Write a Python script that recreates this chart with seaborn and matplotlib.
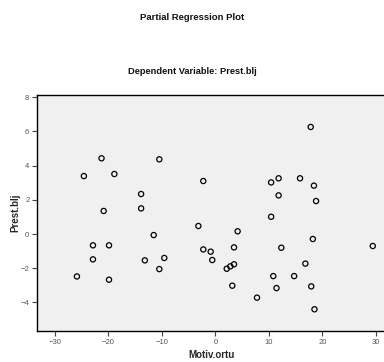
import matplotlib
matplotlib.use("Agg")
import matplotlib.pyplot as plt
from matplotlib import font_manager
import seaborn as sns
import pandas as pd

motiv_ortu = [-21.3, -10.5, -24.6, -18.9, -13.9, -13.9, -20.9, -11.55, -22.9, -19.9,
              -22.9, -13.2, -9.57, -10.5, -25.9, -19.9,
              17.8, -2.28, 10.4, 11.8, 15.8, 18.4, 11.8, 18.8, 10.4, -3.2,
              4.14, 18.2, 3.46, 12.3, 29.4, -2.28, -0.9, -0.6, 3.46, 2.77,
              2.1, 16.8, 10.8, 14.7, 3.14, 11.4, 17.9, 7.76, 18.5]
prest_blj = [4.43, 4.37, 3.39, 3.51, 2.34, 1.50, 1.35, -0.06, -0.66, -0.66,
             -1.48, -1.54, -1.40, -2.05, -2.48, -2.67,
             6.26, 3.10, 3.02, 3.26, 3.26, 2.83, 2.26, 1.93, 1.01, 0.47,
             0.16, -0.29, -0.78, -0.80, -0.70, -0.90, -1.03, -1.52, -1.77, -1.89,
             -2.03, -1.73, -2.46, -2.46, -3.02, -3.16, -3.06, -3.72, -4.40]
x_ticks = [-30, -20, -10, 0, 10, 20, 30]
y_ticks = [-4, -2, 0, 2, 4, 6, 8]

df = pd.DataFrame({"Motiv.ortu": motiv_ortu, "Prest.blj": prest_blj})

sns.set_style("white")
names = {f.name for f in font_manager.fontManager.ttflist}
fam = "Liberation Sans Narrow" if "Liberation Sans Narrow" in names else "Liberation Sans"
plt.rcParams["font.family"] = [fam, "DejaVu Sans"]

fig = plt.figure(figsize=(3.84, 3.62), dpi=100)
ax = fig.add_axes([37/384, 31/362, (386-37)/384, (331-94.5)/362])
ax.set_facecolor("#f0f0f0")

sns.scatterplot(data=df, x="Motiv.ortu", y="Prest.blj", ax=ax, marker="o",
                s=14, facecolor="none", edgecolor="black", linewidth=0.9)

ax.set_xlim(-33.36, 31.87)
ax.set_ylim(-5.67, 8.16)
ax.set_xticks(x_ticks)
ax.set_yticks(y_ticks)
ax.tick_params(axis="both", direction="out", length=3.5, width=0.8, color="#444444",
               labelsize=5.5, labelcolor="#555555", pad=2, bottom=True, left=True)
for side in ["left", "bottom", "top"]:
    ax.spines[side].set_visible(True)
    ax.spines[side].set_color("black")
    ax.spines[side].set_linewidth(1.0)
ax.spines["right"].set_visible(False)

ax.set_xlabel("Motiv.ortu", fontsize=7, fontweight="bold", labelpad=3)
ax.set_ylabel("Prest.blj", fontsize=7, fontweight="bold", labelpad=0)

fig.text(0.5, 1 - 17/362, "Partial Regression Plot", ha="center", va="center",
         fontsize=6.8, fontweight="bold", color="#111111")
fig.text(0.5, 1 - 72/362, "Dependent Variable: Prest.blj", ha="center", va="center",
         fontsize=6.7, fontweight="bold", color="#111111")

fig.savefig("out.png", dpi=100)
